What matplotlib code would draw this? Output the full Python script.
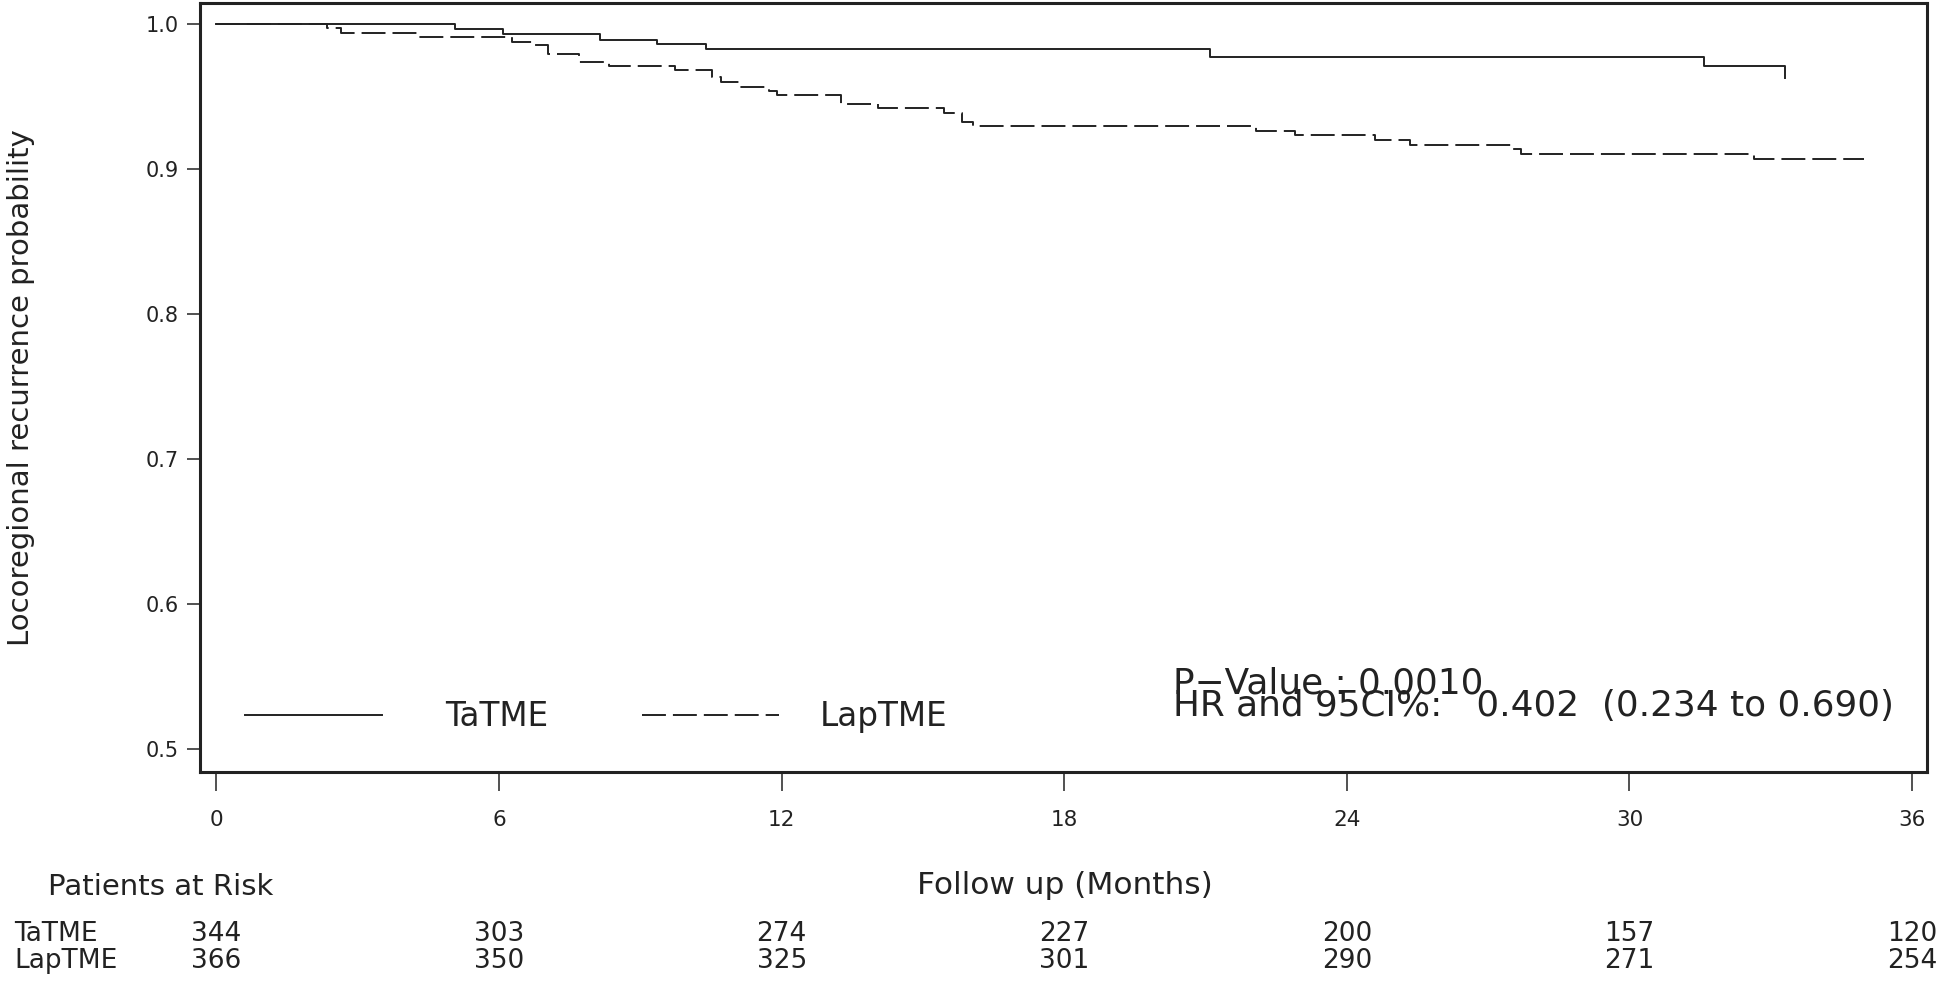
import matplotlib
matplotlib.use("Agg")
import matplotlib.pyplot as plt
import matplotlib.transforms as mtrans

# Kaplan-Meier steps (months, probability)
months_ta = [0, 5.06, 6.09, 8.15, 9.36, 10.40, 21.10, 31.59, 33.31]
surv_ta = [1.0, 0.9966, 0.9931, 0.9892, 0.9867, 0.9830, 0.9777, 0.9715, 0.9632]

months_lap = [0, 2.35, 2.65, 4.25, 6.28, 6.74, 7.03, 7.70, 8.33, 9.74, 10.53,
              10.72, 11.12, 11.72, 11.91, 13.25, 14.04, 15.44, 15.82, 16.07,
              22.08, 22.89, 24.59, 25.34, 27.49, 27.70, 32.65, 34.97]
surv_lap = [1.0, 0.9972, 0.9938, 0.9911, 0.9880, 0.9857, 0.9796, 0.9740, 0.9715,
            0.9685, 0.9635, 0.9605, 0.9566, 0.9543, 0.9513, 0.9451, 0.9426,
            0.9387, 0.9329, 0.9300, 0.9265, 0.9238, 0.9203, 0.9169, 0.9141,
            0.9107, 0.9072, 0.9072]

risk_months = [0, 6, 12, 18, 24, 30, 36]
risk_ta = [344, 303, 274, 227, 200, 157, 120]
risk_lap = [366, 350, 325, 301, 290, 271, 254]

y_ticks = [0.5, 0.6, 0.7, 0.8, 0.9, 1.0]

ink = "#222222"
plt.rcParams["font.family"] = ["DejaVu Sans"]

W, H = 1946, 983
fig = plt.figure(figsize=(W / 100, H / 100), dpi=100)
ax = fig.add_axes([200 / W, 1 - 772 / H, 1726.7 / W, 768.7 / H])


def fx(px):
  return px / W


def fy(py):
  return 1 - py / H


ta_line, = ax.plot(months_ta, surv_ta, drawstyle="steps-post", color=ink,
                   lw=1.4, label="TaTME")
lap_line, = ax.plot(months_lap, surv_lap, drawstyle="steps-post", color=ink,
                    lw=1.4, dashes=(12.3, 3.6), label="LapTME")

ax.set_xlim(-0.35, 36.31)
ax.set_ylim(0.4843, 1.0145)
ax.set_xticks(risk_months)
ax.set_yticks(y_ticks)
ax.set_yticklabels([f"{v:.1f}" for v in y_ticks])

for s in ax.spines.values():
  s.set_linewidth(2.2)
  s.set_color(ink)
ax.tick_params(axis="x", direction="out", length=13.5, width=1.1, pad=14,
               labelsize=15.5, colors=ink)
ax.tick_params(axis="y", direction="out", length=9.5, width=1.1, pad=6,
               labelsize=15, colors=ink)

fig.text(fx(21), 0.5 * (fy(3) + fy(772)), "Locoregional recurrence probability",
         rotation=90, ha="center", va="center", fontsize=21, color=ink)

# two one-entry legends, the gaps differ between the entries
leg1 = ax.legend(handles=[ta_line], loc="center left",
                 bbox_to_anchor=(0.026, 0.072), frameon=False, fontsize=23.5,
                 handlelength=4.2, handletextpad=1.95, borderpad=0,
                 borderaxespad=0)
ax.add_artist(leg1)
leg2 = ax.legend(handles=[lap_line], loc="center left",
                 bbox_to_anchor=(0.256, 0.072), frameon=False, fontsize=23.5,
                 handlelength=4.2, handletextpad=1.25, borderpad=0,
                 borderaxespad=0)
for lg in (leg1, leg2):
  for t in lg.get_texts():
    t.set_color(ink)

fig.text(fx(1173), fy(693), "P\u2212Value : 0.0010", fontsize=25.8,
         va="baseline", ha="left", color=ink)
fig.text(fx(1173), fy(716), "HR and 95CI%:   0.402  (0.234 to 0.690)",
         fontsize=25.8, va="baseline", ha="left", color=ink)

# patients at risk table under the axis
fig.text(fx(48), fy(895), "Patients at Risk", fontsize=21, va="baseline",
         color=ink)
fig.text(fx(1065), fy(894), "Follow up (Months)", fontsize=22.5, va="baseline",
         ha="center", color=ink)
fig.text(fx(14), fy(941), "TaTME", fontsize=19, va="baseline", color=ink)
fig.text(fx(14), fy(968), "LapTME", fontsize=19, va="baseline", color=ink)

tr = mtrans.blended_transform_factory(ax.transData, fig.transFigure)
for m, a, b in zip(risk_months, risk_ta, risk_lap):
  ax.text(m, fy(941), str(a), transform=tr, ha="center", va="baseline",
          fontsize=19, color=ink, clip_on=False)
  ax.text(m, fy(968), str(b), transform=tr, ha="center", va="baseline",
          fontsize=19, color=ink, clip_on=False)

fig.savefig("out.png", dpi=100)
